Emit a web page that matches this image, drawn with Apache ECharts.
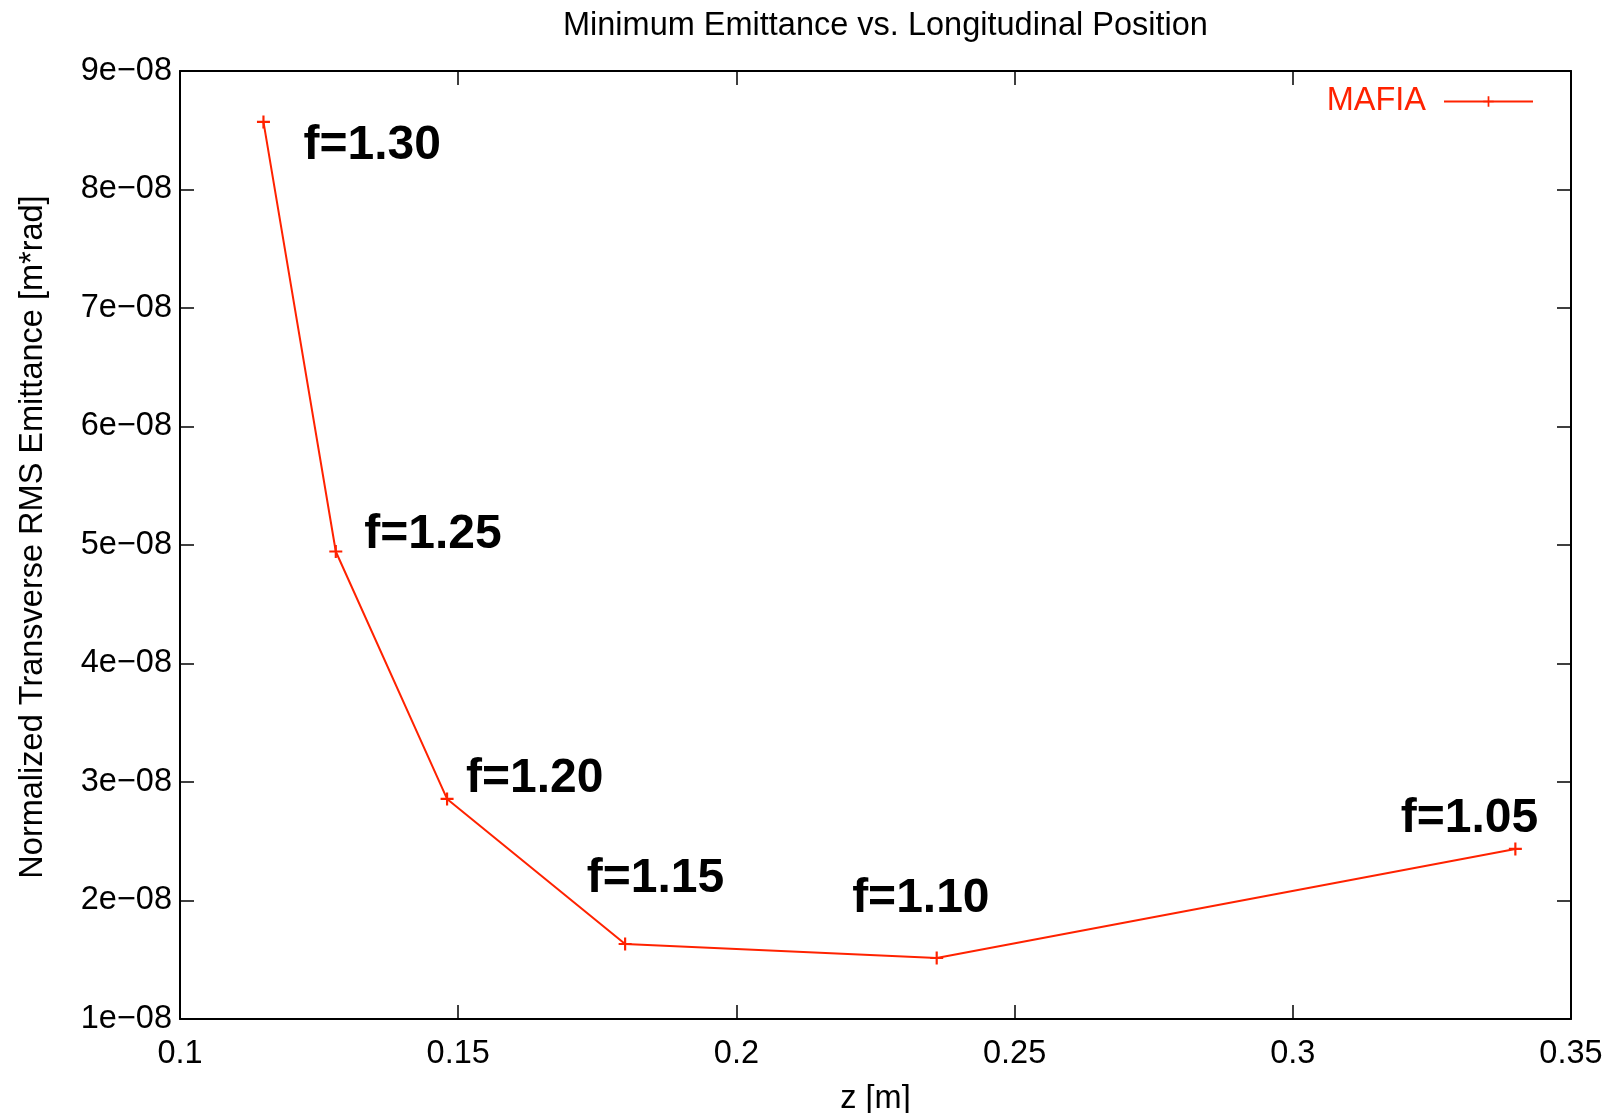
<!DOCTYPE html>
<html>
<head>
<meta charset="utf-8">
<script src="https://cdn.jsdelivr.net/npm/echarts@6/dist/echarts.min.js"></script>
<style>html,body{margin:0;padding:0;background:#fff}#c{width:1613px;height:1113px}</style>
</head>
<body>
<div id="c"></div>
<script>
// Data
const zPositions = [0.115, 0.128, 0.148, 0.180, 0.236, 0.340];
const emittance = [8.57e-8, 4.945e-8, 2.857e-8, 1.633e-8, 1.515e-8, 2.435e-8];
const labelTexts = ['f=1.30', 'f=1.25', 'f=1.20', 'f=1.15', 'f=1.10', 'f=1.05'];
const labelX = [0.1222, 0.1331, 0.1514, 0.1731, 0.2208, 0.3194];
const labelY = [8.37e-8, 5.09e-8, 3.03e-8, 2.18e-8, 2.015e-8, 2.69e-8];
const seriesName = 'MAFIA';

const FONT = 'Liberation Sans';
const RED = '#ff2200';
const PLUS = 'path://M5,0h2v5h5v2h-5v5h-2v-5h-5v-2h5z';
const FS = 32.5;

const chart = echarts.init(document.getElementById('c'), null, {renderer: 'canvas'});

const fmtY = v => Math.round(v * 1e8) + 'e\u221208';
const fmtX = v => String(parseFloat(v.toFixed(2)));

const axisCommon = {
  axisLine: {show: true, onZero: false, lineStyle: {color: '#000', width: 2}},
  axisTick: {show: true, inside: true, length: 14, lineStyle: {color: '#000', width: 1.5}},
  splitLine: {show: false}
};

chart.setOption({
  animation: false,
  backgroundColor: '#fff',
  title: {
    text: 'Minimum Emittance vs. Longitudinal Position',
    left: 558, top: 5,
    textStyle: {fontFamily: FONT, fontSize: FS, fontWeight: 'normal', color: '#000'}
  },
  legend: {
    data: [seriesName],
    right: 74, top: 80,
    align: 'right',
    itemWidth: 89, itemHeight: 13,
    itemGap: 0,
    textStyle: {fontFamily: FONT, fontSize: FS, color: RED, padding: [0, 13, 0, 0]}
  },
  grid: {left: 180, right: 42, top: 71, bottom: 94, containLabel: false, outerBoundsMode: 'none'},
  xAxis: [
    Object.assign({}, axisCommon, {
      type: 'value', position: 'bottom', min: 0.1, max: 0.35, interval: 0.05,
      name: 'z [m]', nameLocation: 'middle', nameGap: 64,
      nameTextStyle: {fontFamily: FONT, fontSize: FS, color: '#000'},
      axisLabel: {fontFamily: FONT, fontSize: FS, color: '#000', margin: 19, formatter: fmtX}
    }),
    Object.assign({}, axisCommon, {
      type: 'value', position: 'top', min: 0.1, max: 0.35, interval: 0.05,
      axisLabel: {show: false}
    })
  ],
  yAxis: [
    Object.assign({}, axisCommon, {
      type: 'value', position: 'left', min: 1e-8, max: 9e-8, interval: 1e-8,
      name: 'Normalized Transverse RMS Emittance [m*rad]', nameLocation: 'middle', nameGap: 130,
      nameTextStyle: {fontFamily: FONT, fontSize: FS, color: '#000', padding: [0, 0, 0, 16]},
      axisLabel: {fontFamily: FONT, fontSize: FS, color: '#000', margin: 8, formatter: fmtY}
    }),
    Object.assign({}, axisCommon, {
      type: 'value', position: 'right', min: 1e-8, max: 9e-8, interval: 1e-8,
      axisLabel: {show: false}
    })
  ],
  series: [
    {
      name: seriesName,
      type: 'line',
      data: zPositions.map((z, i) => [z, emittance[i]]),
      symbol: PLUS,
      symbolSize: 13,
      showAllSymbol: true,
      lineStyle: {color: RED, width: 2},
      itemStyle: {color: RED},
      emphasis: {disabled: true}
    },
    {
      name: 'labels',
      type: 'scatter',
      data: labelX.map((x, i) => [x, labelY[i]]),
      symbolSize: 0,
      silent: true,
      itemStyle: {color: '#000'},
      label: {
        show: true, position: 'right', distance: 0,
        formatter: p => labelTexts[p.dataIndex],
        fontFamily: FONT, fontSize: 48, fontWeight: 'bold', color: '#000000',
        textBorderWidth: 0, opacity: 1
      }
    }
  ]
});
</script>
</body>
</html>
